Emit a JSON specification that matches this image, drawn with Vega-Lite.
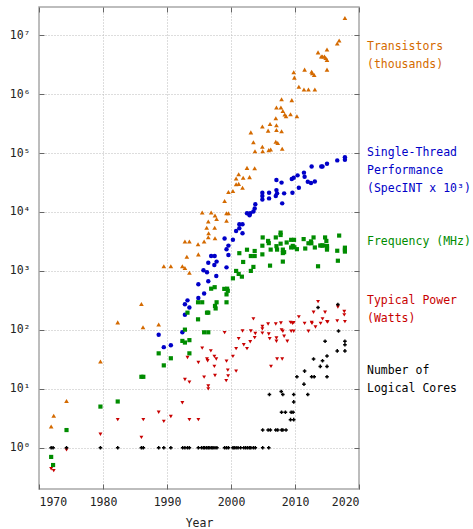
{
  "$schema": "https://vega.github.io/schema/vega-lite/v6.json",
  "width": 320,
  "height": 482,
  "autosize": {"type": "none"},
  "padding": {"left": 39, "top": 7, "right": 114, "bottom": 40},
  "config": {
    "view": {"stroke": "#a8a8a8", "strokeWidth": 1.5},
    "font": "DejaVu Sans Mono",
    "axis": {
      "labelFont": "DejaVu Sans Mono", "titleFont": "DejaVu Sans Mono",
      "labelFontSize": 11.5, "titleFontSize": 11.5, "titleFontWeight": "normal",
      "labelColor": "#222", "titleColor": "#222",
      "domain": false, "tickColor": "#666", "tickWidth": 1,
      "gridColor": "#bbbbbb", "gridDash": [1, 2], "gridWidth": 1, "gridOpacity": 1
    }
  },
  "datasets": {
    "pts": [
      {"s":"t","x":1971.9,"v":2.3},{"s":"t","x":1972.3,"v":3.5},{"s":"t","x":1974.3,"v":6.2},{"s":"t","x":1979.6,"v":29},{"s":"t","x":1982.3,"v":134},{"s":"t","x":1986.0,"v":275},{"s":"t","x":1986.25,"v":111},{"s":"t","x":1988.7,"v":123},{"s":"t","x":1989.5,"v":1200},{"s":"t","x":1990.6,"v":1200},{"s":"t","x":1992.4,"v":1200},{"s":"t","x":1992.8,"v":1120},{"s":"t","x":1993.5,"v":935},{"s":"t","x":1993.1,"v":1740},{"s":"t","x":1992.8,"v":3150},{"s":"t","x":1993.5,"v":3150},{"s":"t","x":1994.85,"v":2830},{"s":"t","x":1994.9,"v":1910},{"s":"t","x":1995.8,"v":3150},{"s":"t","x":1995.5,"v":9800},{"s":"t","x":1996.9,"v":9800},{"s":"t","x":1997.5,"v":8740},{"s":"t","x":1997.75,"v":7600},{"s":"t","x":1996.45,"v":6900},{"s":"t","x":1996.2,"v":5400},{"s":"t","x":1997.45,"v":5400},{"s":"t","x":1996.5,"v":4360},{"s":"t","x":1996.45,"v":3730},{"s":"t","x":1997.5,"v":3580},{"s":"t","x":1999.0,"v":15400},{"s":"t","x":1999.3,"v":9500},{"s":"t","x":1999.6,"v":9500},{"s":"t","x":1999.3,"v":7100},{"s":"t","x":1999.6,"v":21800},{"s":"t","x":2000.3,"v":22700},{"s":"t","x":2000.8,"v":37000},{"s":"t","x":2000.8,"v":29500},{"s":"t","x":2001.2,"v":30000},{"s":"t","x":2001.2,"v":43600},{"s":"t","x":2001.9,"v":38000},{"s":"t","x":2001.8,"v":25800},{"s":"t","x":2002.5,"v":56000},{"s":"t","x":2002.9,"v":39000},{"s":"t","x":2003.7,"v":55000},{"s":"t","x":2003.1,"v":224000},{"s":"t","x":2003.5,"v":152000},{"s":"t","x":2003.75,"v":107000},{"s":"t","x":2004.9,"v":128000},{"s":"t","x":2004.95,"v":107000},{"s":"t","x":2004.9,"v":282000},{"s":"t","x":2005.8,"v":240000},{"s":"t","x":2006.1,"v":310000},{"s":"t","x":2005.9,"v":112000},{"s":"t","x":2006.2,"v":115000},{"s":"t","x":2007.0,"v":390000},{"s":"t","x":2007.1,"v":296000},{"s":"t","x":2007.1,"v":245000},{"s":"t","x":2007.1,"v":590000},{"s":"t","x":2007.0,"v":155000},{"s":"t","x":2007.3,"v":148000},{"s":"t","x":2007.9,"v":235000},{"s":"t","x":2008.0,"v":118000},{"s":"t","x":2007.8,"v":590000},{"s":"t","x":2007.9,"v":815000},{"s":"t","x":2008.1,"v":515000},{"s":"t","x":2008.4,"v":450000},{"s":"t","x":2008.6,"v":420000},{"s":"t","x":2009.3,"v":455000},{"s":"t","x":2009.5,"v":790000},{"s":"t","x":2010.3,"v":420000},{"s":"t","x":2009.8,"v":2350000},{"s":"t","x":2009.9,"v":1900000},{"s":"t","x":2010.6,"v":1330000},{"s":"t","x":2011.4,"v":1200000},{"s":"t","x":2012.1,"v":1200000},{"s":"t","x":2011.5,"v":2600000},{"s":"t","x":2012.6,"v":2400000},{"s":"t","x":2012.7,"v":2250000},{"s":"t","x":2013.0,"v":2100000},{"s":"t","x":2013.1,"v":1200000},{"s":"t","x":2013.6,"v":5100000},{"s":"t","x":2014.1,"v":4350000},{"s":"t","x":2014.6,"v":4350000},{"s":"t","x":2014.3,"v":4350000},{"s":"t","x":2015.0,"v":5700000},{"s":"t","x":2014.8,"v":4100000},{"s":"t","x":2015.0,"v":3800000},{"s":"t","x":2015.0,"v":2600000},{"s":"t","x":2016.6,"v":7200000},{"s":"t","x":2016.9,"v":8100000},{"s":"t","x":2017.8,"v":19500000},
      {"s":"p","x":1988.7,"v":83},{"s":"p","x":1989.5,"v":51},{"s":"p","x":1990.6,"v":55},{"s":"p","x":1992.4,"v":91},{"s":"p","x":1992.8,"v":180},{"s":"p","x":1992.8,"v":273},{"s":"p","x":1993.2,"v":317},{"s":"p","x":1993.5,"v":240},{"s":"p","x":1994.9,"v":347},{"s":"p","x":1994.9,"v":594},{"s":"p","x":1995.7,"v":1025},{"s":"p","x":1995.8,"v":414},{"s":"p","x":1996.25,"v":950},{"s":"p","x":1996.45,"v":1380},{"s":"p","x":1996.45,"v":670},{"s":"p","x":1996.9,"v":1790},{"s":"p","x":1997.45,"v":1790},{"s":"p","x":1997.4,"v":1260},{"s":"p","x":1997.75,"v":1440},{"s":"p","x":1997.7,"v":823},{"s":"p","x":1999.0,"v":3550},{"s":"p","x":1999.3,"v":2340},{"s":"p","x":1999.3,"v":1150},{"s":"p","x":1999.6,"v":2690},{"s":"p","x":1999.6,"v":1870},{"s":"p","x":2000.3,"v":3370},{"s":"p","x":2000.8,"v":4760},{"s":"p","x":2001.3,"v":5300},{"s":"p","x":2001.3,"v":6200},{"s":"p","x":2001.8,"v":6200},{"s":"p","x":2001.8,"v":4360},{"s":"p","x":2002.5,"v":9500},{"s":"p","x":2002.9,"v":8800},{"s":"p","x":2003.0,"v":9500},{"s":"p","x":2003.5,"v":10200},{"s":"p","x":2003.7,"v":11500},{"s":"p","x":2003.8,"v":13500},{"s":"p","x":2004.9,"v":21200},{"s":"p","x":2004.9,"v":18700},{"s":"p","x":2004.9,"v":16300},{"s":"p","x":2005.95,"v":21200},{"s":"p","x":2005.95,"v":17000},{"s":"p","x":2007.1,"v":34800},{"s":"p","x":2007.1,"v":23500},{"s":"p","x":2007.2,"v":20700},{"s":"p","x":2007.0,"v":18700},{"s":"p","x":2007.9,"v":31500},{"s":"p","x":2008.3,"v":20700},{"s":"p","x":2008.0,"v":14000},{"s":"p","x":2009.5,"v":36300},{"s":"p","x":2009.8,"v":38200},{"s":"p","x":2009.6,"v":21200},{"s":"p","x":2010.4,"v":41800},{"s":"p","x":2010.6,"v":25800},{"s":"p","x":2011.4,"v":46500},{"s":"p","x":2011.5,"v":39500},{"s":"p","x":2012.0,"v":32600},{"s":"p","x":2012.5,"v":31000},{"s":"p","x":2013.1,"v":33000},{"s":"p","x":2012.6,"v":59200},{"s":"p","x":2014.1,"v":59200},{"s":"p","x":2014.3,"v":59200},{"s":"p","x":2015.0,"v":66000},{"s":"p","x":2016.6,"v":75000},{"s":"p","x":2017.8,"v":85000},{"s":"p","x":2017.8,"v":77000},
      {"s":"f","x":1971.9,"v":0.7},{"s":"f","x":1972.2,"v":0.51},{"s":"f","x":1974.3,"v":2.0},{"s":"f","x":1979.6,"v":5.0},{"s":"f","x":1982.3,"v":6.1},{"s":"f","x":1986.0,"v":16},{"s":"f","x":1986.3,"v":16},{"s":"f","x":1988.7,"v":40},{"s":"f","x":1989.5,"v":25},{"s":"f","x":1990.6,"v":33},{"s":"f","x":1992.4,"v":65},{"s":"f","x":1992.8,"v":61},{"s":"f","x":1992.8,"v":101},{"s":"f","x":1993.2,"v":196},{"s":"f","x":1993.5,"v":67},{"s":"f","x":1993.5,"v":40},{"s":"f","x":1994.85,"v":151},{"s":"f","x":1994.85,"v":294},{"s":"f","x":1995.5,"v":294},{"s":"f","x":1995.8,"v":91},{"s":"f","x":1996.45,"v":91},{"s":"f","x":1996.25,"v":196},{"s":"f","x":1996.45,"v":196},{"s":"f","x":1996.9,"v":500},{"s":"f","x":1997.45,"v":530},{"s":"f","x":1997.5,"v":255},{"s":"f","x":1997.6,"v":231},{"s":"f","x":1997.75,"v":294},{"s":"f","x":1998.95,"v":496},{"s":"f","x":1999.4,"v":500},{"s":"f","x":1999.3,"v":400},{"s":"f","x":1999.3,"v":294},{"s":"f","x":1999.5,"v":460},{"s":"f","x":2000.3,"v":750},{"s":"f","x":2000.8,"v":1000},{"s":"f","x":2001.2,"v":890},{"s":"f","x":2001.7,"v":800},{"s":"f","x":2001.9,"v":1420},{"s":"f","x":2001.3,"v":2000},{"s":"f","x":2002.5,"v":2290},{"s":"f","x":2003.1,"v":1000},{"s":"f","x":2003.5,"v":1170},{"s":"f","x":2003.1,"v":1790},{"s":"f","x":2003.7,"v":1790},{"s":"f","x":2003.7,"v":2180},{"s":"f","x":2004.95,"v":3700},{"s":"f","x":2004.9,"v":2680},{"s":"f","x":2004.9,"v":1910},{"s":"f","x":2005.8,"v":3230},{"s":"f","x":2005.9,"v":2960},{"s":"f","x":2006.1,"v":1230},{"s":"f","x":2006.2,"v":2300},{"s":"f","x":2007.0,"v":3700},{"s":"f","x":2007.1,"v":2630},{"s":"f","x":2007.2,"v":2300},{"s":"f","x":2007.75,"v":4470},{"s":"f","x":2007.75,"v":4070},{"s":"f","x":2007.75,"v":2900},{"s":"f","x":2008.1,"v":1440},{"s":"f","x":2008.1,"v":2300},{"s":"f","x":2008.3,"v":2080},{"s":"f","x":2008.1,"v":2010},{"s":"f","x":2008.7,"v":3040},{"s":"f","x":2009.4,"v":3370},{"s":"f","x":2009.85,"v":3370},{"s":"f","x":2009.65,"v":2660},{"s":"f","x":2009.9,"v":2520},{"s":"f","x":2009.4,"v":2500},{"s":"f","x":2010.3,"v":2340},{"s":"f","x":2011.35,"v":3470},{"s":"f","x":2011.6,"v":2400},{"s":"f","x":2012.1,"v":2950},{"s":"f","x":2012.55,"v":2950},{"s":"f","x":2012.5,"v":3170},{"s":"f","x":2012.9,"v":3700},{"s":"f","x":2013.1,"v":2500},{"s":"f","x":2013.6,"v":1200},{"s":"f","x":2013.95,"v":2700},{"s":"f","x":2014.2,"v":2700},{"s":"f","x":2014.4,"v":2700},{"s":"f","x":2014.7,"v":3700},{"s":"f","x":2014.9,"v":3230},{"s":"f","x":2015.0,"v":2660},{"s":"f","x":2015.0,"v":2480},{"s":"f","x":2015.0,"v":2300},{"s":"f","x":2016.6,"v":2200},{"s":"f","x":2016.9,"v":3980},{"s":"f","x":2016.7,"v":1490},{"s":"f","x":2017.8,"v":2480},{"s":"f","x":2017.8,"v":2300},{"s":"f","x":2017.8,"v":2130},
      {"s":"w","x":1971.9,"v":0.44},{"s":"w","x":1972.3,"v":0.41},{"s":"w","x":1974.3,"v":0.92},{"s":"w","x":1979.6,"v":1.7},{"s":"w","x":1982.3,"v":3.0},{"s":"w","x":1986.0,"v":1.5},{"s":"w","x":1986.3,"v":3.0},{"s":"w","x":1988.7,"v":4.0},{"s":"w","x":1989.5,"v":2.8},{"s":"w","x":1990.6,"v":3.4},{"s":"w","x":1992.4,"v":5.8},{"s":"w","x":1992.8,"v":14.4},{"s":"w","x":1993.2,"v":34},{"s":"w","x":1993.5,"v":13},{"s":"w","x":1993.5,"v":3.0},{"s":"w","x":1994.9,"v":3.0},{"s":"w","x":1994.9,"v":28},{"s":"w","x":1995.5,"v":49},{"s":"w","x":1995.8,"v":15.8},{"s":"w","x":1996.25,"v":32},{"s":"w","x":1996.35,"v":30},{"s":"w","x":1996.45,"v":11.2},{"s":"w","x":1996.45,"v":10},{"s":"w","x":1996.85,"v":44},{"s":"w","x":1997.4,"v":35.5},{"s":"w","x":1997.7,"v":32},{"s":"w","x":1997.4,"v":24},{"s":"w","x":1997.5,"v":16.8},{"s":"w","x":1999.0,"v":90},{"s":"w","x":1999.3,"v":29.5},{"s":"w","x":1999.5,"v":20.8},{"s":"w","x":1999.55,"v":16.6},{"s":"w","x":1999.25,"v":13.8},{"s":"w","x":2000.3,"v":35.5},{"s":"w","x":2000.8,"v":48},{"s":"w","x":2000.8,"v":20},{"s":"w","x":2001.2,"v":71},{"s":"w","x":2001.8,"v":96},{"s":"w","x":2002.0,"v":56},{"s":"w","x":2002.5,"v":48},{"s":"w","x":2003.0,"v":63},{"s":"w","x":2003.1,"v":96},{"s":"w","x":2003.5,"v":154},{"s":"w","x":2003.7,"v":74},{"s":"w","x":2003.8,"v":87},{"s":"w","x":2004.9,"v":114},{"s":"w","x":2004.9,"v":104},{"s":"w","x":2004.9,"v":88},{"s":"w","x":2005.8,"v":126},{"s":"w","x":2005.9,"v":85},{"s":"w","x":2006.05,"v":71},{"s":"w","x":2006.25,"v":24},{"s":"w","x":2007.0,"v":126},{"s":"w","x":2007.8,"v":131},{"s":"w","x":2007.1,"v":73},{"s":"w","x":2007.1,"v":64},{"s":"w","x":2007.2,"v":32},{"s":"w","x":2008.0,"v":32},{"s":"w","x":2007.9,"v":100},{"s":"w","x":2008.1,"v":95},{"s":"w","x":2008.3,"v":78},{"s":"w","x":2008.8,"v":64},{"s":"w","x":2009.3,"v":134},{"s":"w","x":2009.6,"v":129},{"s":"w","x":2009.8,"v":133},{"s":"w","x":2009.4,"v":95},{"s":"w","x":2009.8,"v":95},{"s":"w","x":2010.6,"v":166},{"s":"w","x":2011.5,"v":129},{"s":"w","x":2012.1,"v":95},{"s":"w","x":2012.6,"v":134},{"s":"w","x":2012.65,"v":129},{"s":"w","x":2012.9,"v":199},{"s":"w","x":2013.2,"v":112},{"s":"w","x":2013.6,"v":302},{"s":"w","x":2014.0,"v":129},{"s":"w","x":2014.3,"v":154},{"s":"w","x":2014.7,"v":199},{"s":"w","x":2015.0,"v":138},{"s":"w","x":2015.1,"v":136},{"s":"w","x":2016.6,"v":142},{"s":"w","x":2016.7,"v":245},{"s":"w","x":2017.7,"v":205},{"s":"w","x":2017.7,"v":180},{"s":"w","x":2017.8,"v":138},
      {"s":"c","x":1971.9,"v":1},{"s":"c","x":1972.2,"v":1},{"s":"c","x":1974.3,"v":1},{"s":"c","x":1979.6,"v":1},{"s":"c","x":1982.3,"v":1},{"s":"c","x":1986.0,"v":1},{"s":"c","x":1986.3,"v":1},{"s":"c","x":1988.7,"v":1},{"s":"c","x":1989.5,"v":1},{"s":"c","x":1990.6,"v":1},{"s":"c","x":1992.45,"v":1},{"s":"c","x":1992.8,"v":1},{"s":"c","x":1993.2,"v":1},{"s":"c","x":1993.5,"v":1},{"s":"c","x":1994.9,"v":1},{"s":"c","x":1995.4,"v":1},{"s":"c","x":1995.7,"v":1},{"s":"c","x":1995.9,"v":1},{"s":"c","x":1996.2,"v":1},{"s":"c","x":1996.45,"v":1},{"s":"c","x":1996.7,"v":1},{"s":"c","x":1997.0,"v":1},{"s":"c","x":1997.2,"v":1},{"s":"c","x":1997.5,"v":1},{"s":"c","x":1997.8,"v":1},{"s":"c","x":1999.0,"v":1},{"s":"c","x":1999.3,"v":1},{"s":"c","x":1999.6,"v":1},{"s":"c","x":2000.3,"v":1},{"s":"c","x":2000.5,"v":1},{"s":"c","x":2000.8,"v":1},{"s":"c","x":2001.1,"v":1},{"s":"c","x":2001.5,"v":1},{"s":"c","x":2002.0,"v":1},{"s":"c","x":2002.3,"v":1},{"s":"c","x":2002.6,"v":1},{"s":"c","x":2002.9,"v":1},{"s":"c","x":2003.1,"v":1},{"s":"c","x":2003.5,"v":1},{"s":"c","x":2003.8,"v":1},{"s":"c","x":2004.95,"v":1},{"s":"c","x":2005.9,"v":1},{"s":"c","x":2004.95,"v":2},{"s":"c","x":2005.8,"v":2},{"s":"c","x":2006.15,"v":2},{"s":"c","x":2007.0,"v":2},{"s":"c","x":2007.3,"v":2},{"s":"c","x":2007.9,"v":2},{"s":"c","x":2008.1,"v":2},{"s":"c","x":2008.6,"v":2},{"s":"c","x":2009.3,"v":3},{"s":"c","x":2009.8,"v":3},{"s":"c","x":2007.9,"v":4},{"s":"c","x":2008.5,"v":4},{"s":"c","x":2009.4,"v":4},{"s":"c","x":2009.7,"v":4},{"s":"c","x":2009.8,"v":6},{"s":"c","x":2006.0,"v":8},{"s":"c","x":2008.1,"v":8},{"s":"c","x":2009.8,"v":8},{"s":"c","x":2012.0,"v":8},{"s":"c","x":2007.85,"v":9},{"s":"c","x":2011.4,"v":12},{"s":"c","x":2010.3,"v":16},{"s":"c","x":2012.6,"v":16},{"s":"c","x":2013.0,"v":16},{"s":"c","x":2015.0,"v":16},{"s":"c","x":2011.5,"v":20},{"s":"c","x":2013.95,"v":24},{"s":"c","x":2015.0,"v":24},{"s":"c","x":2014.3,"v":30},{"s":"c","x":2012.9,"v":32},{"s":"c","x":2015.0,"v":36},{"s":"c","x":2016.6,"v":44},{"s":"c","x":2017.8,"v":44},{"s":"c","x":2017.8,"v":56},{"s":"c","x":2014.7,"v":64},{"s":"c","x":2017.8,"v":64},{"s":"c","x":2016.8,"v":96},{"s":"c","x":2013.6,"v":240},{"s":"c","x":2016.7,"v":270}
    ],
    "labels": [
      {"s":"t","x":2021.25,"v":6260000,"label":"Transistors\n(thousands)"},
      {"s":"p","x":2021.25,"v":100000,"label":"Single-Thread\nPerformance\n(SpecINT x 10³)"},
      {"s":"f","x":2021.25,"v":3090,"label":"Frequency (MHz)"},
      {"s":"w","x":2021.25,"v":310,"label":"Typical Power\n(Watts)"},
      {"s":"c","x":2021.25,"v":20.2,"label":"Number of\nLogical Cores"}
    ]
  },
  "layer": [
    {
      "data": {"name": "pts"},
      "mark": {"type": "point", "filled": true, "opacity": 1},
      "encoding": {
        "x": {"field": "x", "type": "quantitative",
              "scale": {"domain": [1970, 2020], "nice": false, "zero": false},
              "axis": {"values": [1970,1980,1990,2000,2010,2020], "format": "d", "title": "Year",
                       "tickSize": -5, "labelPadding": 12, "titlePadding": 10, "grid": true}},
        "y": {"field": "v", "type": "quantitative",
              "scale": {"type": "log", "domain": [0.2, 30000000], "nice": false},
              "axis": {"values": [1,10,100,1000,10000,100000,1000000,10000000], "title": null,
                       "tickSize": -5, "labelPadding": 14, "grid": true,
                       "labelExpr": "'10' + ['⁰','¹','²','³','⁴','⁵','⁶','⁷'][round(log(datum.value)/LN10)]"}},
        "shape": {"field": "s", "type": "nominal", "legend": null,
                  "scale": {"domain": ["t","p","f","w","c"], "range": ["triangle-up","circle","square","triangle-down","cross"]}},
        "size": {"field": "s", "type": "nominal", "legend": null,
                 "scale": {"domain": ["t","p","f","w","c"], "range": [22, 13, 18, 22, 14]}},
        "color": {"field": "s", "type": "nominal", "legend": null,
                  "scale": {"domain": ["t","p","f","w","c"], "range": ["#d46a00","#0000c8","#008c00","#c80000","#000000"]}}
      }
    },
    {
      "data": {"name": "labels"},
      "mark": {"type": "text", "align": "left", "baseline": "middle", "lineBreak": "\n", "lineHeight": 18, "fontSize": 11.5, "font": "DejaVu Sans Mono"},
      "encoding": {
        "x": {"field": "x", "type": "quantitative",
              "axis": {"orient": "top", "values": [1970,1980,1990,2000,2010,2020], "labels": false, "title": null, "grid": false, "tickSize": -5}},
        "y": {"field": "v", "type": "quantitative",
              "axis": {"orient": "right", "values": [1,10,100,1000,10000,100000,1000000,10000000], "labels": false, "title": null, "grid": false, "tickSize": -5}},
        "text": {"field": "label"},
        "color": {"field": "s", "type": "nominal", "legend": null,
                  "scale": {"domain": ["t","p","f","w","c"], "range": ["#d46a00","#0000c8","#008c00","#c80000","#000000"]}}
      }
    }
  ],
  "resolve": {"axis": {"x": "independent", "y": "independent"}}
}
